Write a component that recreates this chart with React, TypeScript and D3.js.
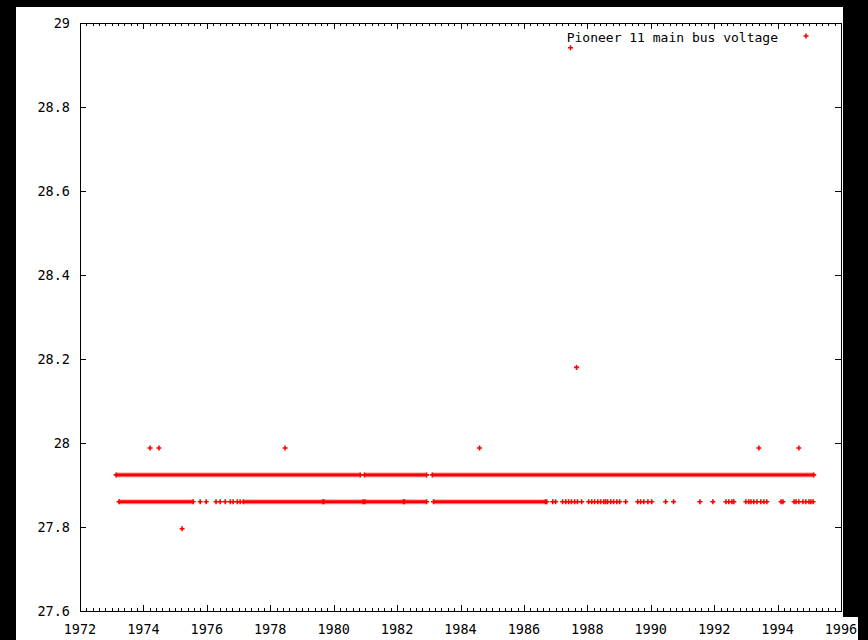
import React from "react";
import * as d3 from "d3";

// ---- data ----
const LEVEL_HIGH = 27.924;
const LEVEL_LOW = 27.86;

// continuous runs of dense samples [startYear, endYear]
const highRuns: [number, number][] = [
  [1973.14, 1980.84],
  [1980.97, 1982.93],
  [1983.11, 1995.14],
];
const lowRuns: [number, number][] = [
  [1973.23, 1975.57],
  [1977.15, 1979.66],
  [1979.69, 1980.93],
  [1980.98, 1982.2],
  [1982.23, 1982.93],
  [1983.15, 1986.68],
];
// isolated samples at the low level
const lowPoints: number[] = [
  1975.79, 1975.98, 1976.29, 1976.42, 1976.58, 1976.74, 1976.83, 1976.96, 1977.05,
  1986.72, 1986.91, 1987.0, 1987.22, 1987.32, 1987.41, 1987.5, 1987.6, 1987.69, 1987.82,
  1988.04, 1988.14, 1988.23, 1988.33, 1988.42, 1988.52, 1988.58, 1988.64, 1988.74,
  1988.83, 1988.93, 1989.02, 1989.21, 1989.59, 1989.68, 1989.78, 1989.91, 1990.03,
  1990.47, 1990.72, 1991.55, 1991.96, 1992.37, 1992.46, 1992.56, 1992.62, 1993.0,
  1993.09, 1993.16, 1993.25, 1993.35, 1993.47, 1993.57, 1993.66, 1994.11, 1994.17,
  1994.52, 1994.58, 1994.67, 1994.8, 1994.89, 1994.99, 1995.05, 1995.12,
];
// other isolated samples [year, volts]
const outliers: [number, number][] = [
  [1974.21, 27.988],
  [1974.49, 27.988],
  [1978.47, 27.988],
  [1984.6, 27.988],
  [1993.41, 27.988],
  [1994.67, 27.988],
  [1975.22, 27.796],
  [1987.66, 28.18],
  [1987.47, 28.941],
];

const xTicks = [1972, 1974, 1976, 1978, 1980, 1982, 1984, 1986, 1988, 1990, 1992, 1994, 1996];
const yTicks = [27.6, 27.8, 28, 28.2, 28.4, 28.6, 28.8, 29];
const seriesTitle = "Pioneer 11 main bus voltage";

const RED = "#ff0000";
const FONT = "'DejaVu Sans Mono', 'Liberation Mono', monospace";

function Plus({ cx, cy }: { cx: number; cy: number }) {
  return (
    <path
      d={`M${cx - 2.5},${cy}H${cx + 2.5}M${cx},${cy - 2.5}V${cy + 2.5}`}
      stroke={RED}
      strokeWidth={1.6}
      fill="none"
    />
  );
}

export default function App() {
  const W = 868;
  const H = 640;
  const left = 80;
  const right = 841;
  const top = 23;
  const bottom = 611;

  const x = d3.scaleLinear().domain([1972, 1996]).range([left, right]);
  const y = d3.scaleLinear().domain([27.6, 29]).range([bottom, top]);

  const minorX: number[] = [];
  for (let i = 0; i < xTicks.length - 1; i++) {
    for (let k = 1; k < 10; k++) minorX.push(xTicks[i] + (k * (xTicks[i + 1] - xTicks[i])) / 10);
  }

  const run = (r: [number, number], level: number, key: string) => {
    const x0 = x(r[0]);
    const x1 = x(r[1]);
    const yy = y(level);
    return (
      <g key={key}>
        <rect x={x0} y={yy - 2.5} width={x1 - x0} height={5} fill={RED} opacity={0.35} />
        <rect x={x0} y={yy - 1.5} width={x1 - x0} height={3} fill={RED} />
        <Plus cx={x0} cy={yy} />
        <Plus cx={x1} cy={yy} />
      </g>
    );
  };

  return (
    <svg
      width={W}
      height={H}
      style={{ position: "absolute", left: 0, top: 0, display: "block" }}
    >
      <rect x={0} y={0} width={W} height={H} fill="#000" />
      <rect x={16} y={7} width={827} height={H - 7} fill="#fff" />
      <rect x={843} y={617} width={15} height={H - 617} fill="#fff" />

      {/* ticks */}
      <g stroke="#000" strokeWidth={1} shapeRendering="crispEdges">
        {xTicks.map((t) => (
          <g key={"xt" + t}>
            <line x1={Math.round(x(t)) + 0.5} x2={Math.round(x(t)) + 0.5} y1={bottom} y2={bottom - 6} />
            <line x1={Math.round(x(t)) + 0.5} x2={Math.round(x(t)) + 0.5} y1={top} y2={top + 6} />
          </g>
        ))}
        {minorX.map((t, i) => (
          <g key={"xm" + i}>
            <line x1={Math.round(x(t)) + 0.5} x2={Math.round(x(t)) + 0.5} y1={bottom} y2={bottom - 3} />
            <line x1={Math.round(x(t)) + 0.5} x2={Math.round(x(t)) + 0.5} y1={top} y2={top + 3} />
          </g>
        ))}
        {yTicks.map((t) => (
          <g key={"yt" + t}>
            <line x1={left} x2={left + 6} y1={Math.round(y(t)) + 0.5} y2={Math.round(y(t)) + 0.5} />
            <line x1={right} x2={right - 6} y1={Math.round(y(t)) + 0.5} y2={Math.round(y(t)) + 0.5} />
          </g>
        ))}
        <rect x={left + 0.5} y={top + 0.5} width={right - left} height={bottom - top} fill="none" />
      </g>

      {/* tick labels */}
      <g fontFamily={FONT} fontSize={13.5} fill="#000">
        {yTicks.map((t) => (
          <text key={"yl" + t} x={70} y={y(t)} textAnchor="end" dominantBaseline="central">
            {d3.format("~g")(t)}
          </text>
        ))}
        {xTicks.map((t) => (
          <text key={"xl" + t} x={x(t)} y={629} textAnchor="middle" dominantBaseline="central">
            {t}
          </text>
        ))}
      </g>

      {/* data */}
      <g>
        {highRuns.map((r, i) => run(r, LEVEL_HIGH, "h" + i))}
        {lowRuns.map((r, i) => run(r, LEVEL_LOW, "l" + i))}
        {lowPoints.map((t, i) => (
          <Plus key={"lp" + i} cx={x(t)} cy={y(LEVEL_LOW)} />
        ))}
        {outliers.map((d, i) => (
          <Plus key={"o" + i} cx={x(d[0])} cy={y(d[1])} />
        ))}
      </g>

      {/* key */}
      <text x={778} y={37} textAnchor="end" dominantBaseline="central" fontFamily={FONT} fontSize={13} fill="#000">
        {seriesTitle}
      </text>
      <Plus cx={806} cy={36} />
    </svg>
  );
}
